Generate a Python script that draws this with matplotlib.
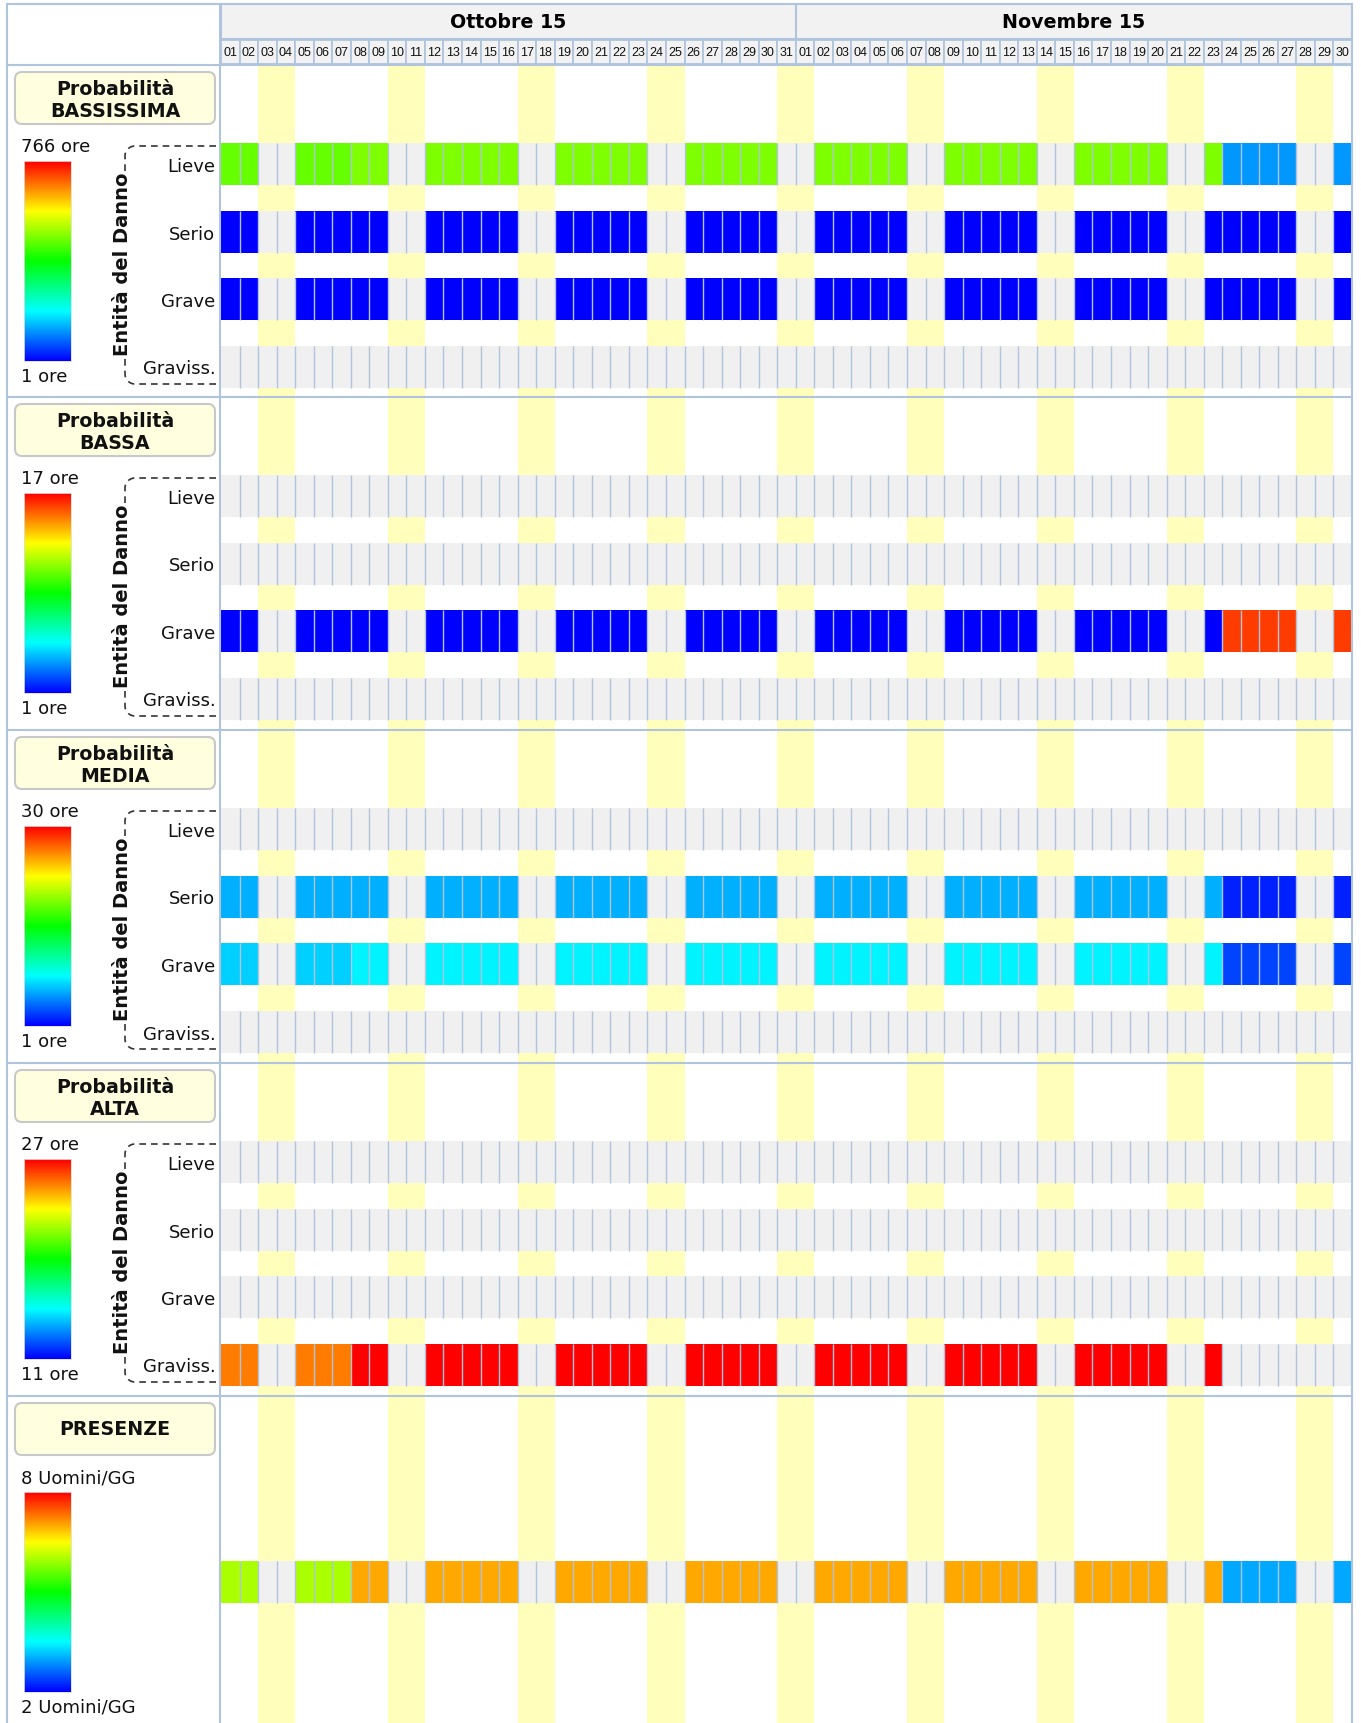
import datetime
import numpy as np
import matplotlib
matplotlib.use("Agg")
import matplotlib.pyplot as plt
from matplotlib.colors import LinearSegmentedColormap, Normalize
from matplotlib.patches import FancyBboxPatch
from matplotlib import font_manager

plt.rcParams["font.family"] = ["DejaVu Sans"]

N = None

# ---------------- data ----------------
months = ["Ottobre 15", "Novembre 15"]
month_lengths = [31, 30]
start_date = datetime.date(2015, 10, 1)
dates = [start_date + datetime.timedelta(days=i) for i in range(sum(month_lengths))]
day_labels = [f"{d.day:02d}" for d in dates]
weekend = [d.weekday() >= 5 for d in dates]

damage_levels = ["Lieve", "Serio", "Grave", "Graviss."]
no_data = [N] * 61

# Probabilità BASSISSIMA (ore)
bassissima_lieve = [
    460, 460, N, N, 460, 460, 460, 479, 479, N, N, 479, 479, 479, 479, 479, N, N,
    479, 479, 479, 479, 479, N, N, 479, 479, 479, 479, 479, N,
    N, 479, 479, 479, 479, 479, N, N, 479, 479, 479, 479, 479, N, N,
    479, 479, 479, 479, 479, N, N, 479, 116, 116, 116, 116, N, N, 116]
bassissima_serio = [
    1, 1, N, N, 1, 1, 1, 1, 1, N, N, 1, 1, 1, 1, 1, N, N,
    1, 1, 1, 1, 1, N, N, 1, 1, 1, 1, 1, N,
    N, 1, 1, 1, 1, 1, N, N, 1, 1, 1, 1, 1, N, N,
    1, 1, 1, 1, 1, N, N, 1, 1, 1, 1, 1, N, N, 1]
bassissima_grave = [
    1, 1, N, N, 1, 1, 1, 1, 1, N, N, 1, 1, 1, 1, 1, N, N,
    1, 1, 1, 1, 1, N, N, 1, 1, 1, 1, 1, N,
    N, 1, 1, 1, 1, 1, N, N, 1, 1, 1, 1, 1, N, N,
    1, 1, 1, 1, 1, N, N, 1, 1, 1, 1, 1, N, N, 1]
bassissima_graviss = no_data

# Probabilità BASSA (ore)
bassa_lieve = no_data
bassa_serio = no_data
bassa_grave = [
    1, 1, N, N, 1, 1, 1, 1, 1, N, N, 1, 1, 1, 1, 1, N, N,
    1, 1, 1, 1, 1, N, N, 1, 1, 1, 1, 1, N,
    N, 1, 1, 1, 1, 1, N, N, 1, 1, 1, 1, 1, N, N,
    1, 1, 1, 1, 1, N, N, 1, 16, 16, 16, 16, N, N, 16]
bassa_graviss = no_data

# Probabilità MEDIA (ore)
media_lieve = no_data
media_serio = [
    6, 6, N, N, 6, 6, 6, 6, 6, N, N, 6, 6, 6, 6, 6, N, N,
    6, 6, 6, 6, 6, N, N, 6, 6, 6, 6, 6, N,
    N, 6, 6, 6, 6, 6, N, N, 6, 6, 6, 6, 6, N, N,
    6, 6, 6, 6, 6, N, N, 6, 2, 2, 2, 2, N, N, 2]
media_grave = [
    7, 7, N, N, 7, 7, 7, 8, 8, N, N, 8, 8, 8, 8, 8, N, N,
    8, 8, 8, 8, 8, N, N, 8, 8, 8, 8, 8, N,
    N, 8, 8, 8, 8, 8, N, N, 8, 8, 8, 8, 8, N, N,
    8, 8, 8, 8, 8, N, N, 8, 3, 3, 3, 3, N, N, 3]
media_graviss = no_data

# Probabilità ALTA (ore)
alta_lieve = no_data
alta_serio = no_data
alta_grave = no_data
alta_graviss = [
    25, 25, N, N, 25, 25, 25, 27, 27, N, N, 27, 27, 27, 27, 27, N, N,
    27, 27, 27, 27, 27, N, N, 27, 27, 27, 27, 27, N,
    N, 27, 27, 27, 27, 27, N, N, 27, 27, 27, 27, 27, N, N,
    27, 27, 27, 27, 27, N, N, 27, N, N, N, N, N, N, N]

# PRESENZE (Uomini/GG)
presenze = [
    6, 6, N, N, 6, 6, 6, 7, 7, N, N, 7, 7, 7, 7, 7, N, N,
    7, 7, 7, 7, 7, N, N, 7, 7, 7, 7, 7, N,
    N, 7, 7, 7, 7, 7, N, N, 7, 7, 7, 7, 7, N, N,
    7, 7, 7, 7, 7, N, N, 7, 3, 3, 3, 3, N, N, 3]

scale_ranges = {"BASSISSIMA": (1, 766), "BASSA": (1, 17), "MEDIA": (1, 30),
                "ALTA": (11, 27), "PRESENZE": (2, 8)}

# ---------------- style ----------------
W, H = 1361, 1724
YELLOW = "#ffffbb"
GRAY = "#f0f0f0"
EDGE = "#b0c4de"
HEAD_BG = "#f2f2f2"
cmap = LinearSegmentedColormap.from_list(
    "jetlike", ["#0000ff", "#00ffff", "#00ff00", "#ffff00", "#ff0000"])


def has_font(name):
    try:
        font_manager.findfont(font_manager.FontProperties(family=name),
                              fallback_to_default=False)
        return True
    except Exception:
        return False


if has_font("Liberation Sans Narrow"):
    day_font, day_size = "Liberation Sans Narrow", 10.5
else:
    day_font, day_size = "Liberation Sans", 9

fig = plt.figure(figsize=(W / 100, H / 100), dpi=100)
fig.patch.set_facecolor("white")


def px_axes(x0, y0, x1, y1, **kw):
    return fig.add_axes([x0 / W, 1 - y1 / H, (x1 - x0) / W, (y1 - y0) / H], **kw)


GX0, GX1 = 221, 1352
ndays = len(dates)
ROW_PITCH = 67.5
ROW_H = 42 / ROW_PITCH
days_idx = np.arange(ndays)

# ---------------- header ----------------
hax = px_axes(GX0, 5, GX1, 65)
hax.set_xlim(0, ndays)
hax.set_ylim(60, 0)
hax.axis("off")
mstarts = np.concatenate([[0], np.cumsum(month_lengths)[:-1]])
hax.bar(mstarts, 35, bottom=0, width=month_lengths, align="edge",
        color=HEAD_BG, edgecolor=EDGE, linewidth=1.5)
for s, L, name in zip(mstarts, month_lengths, months):
    hax.text(s + L / 2, 17.5, name, ha="center", va="center",
             fontsize=13.7, fontweight="bold", color="black")
hax.bar(days_idx, 24, bottom=36, width=1, align="edge",
        color=HEAD_BG, edgecolor=EDGE, linewidth=1.3)
for i, lab in enumerate(day_labels):
    hax.text(i + 0.5, 48.5, lab, ha="center", va="center",
             fontsize=day_size, family=day_font, color="#111111")

# ---------------- panels ----------------
panels = [
    dict(title=["Probabilità", "BASSISSIMA"], key="BASSISSIMA", unit="ore",
         rows=[bassissima_lieve, bassissima_serio, bassissima_grave, bassissima_graviss],
         top=66, bottom=398),
    dict(title=["Probabilità", "BASSA"], key="BASSA", unit="ore",
         rows=[bassa_lieve, bassa_serio, bassa_grave, bassa_graviss],
         top=398, bottom=731),
    dict(title=["Probabilità", "MEDIA"], key="MEDIA", unit="ore",
         rows=[media_lieve, media_serio, media_grave, media_graviss],
         top=731, bottom=1064),
    dict(title=["Probabilità", "ALTA"], key="ALTA", unit="ore",
         rows=[alta_lieve, alta_serio, alta_grave, alta_graviss],
         top=1064, bottom=1397),
    dict(title=["PRESENZE"], key="PRESENZE", unit="Uomini/GG",
         rows=[presenze], top=1397, bottom=1724),
]

for p in panels:
    top, bottom = p["top"], p["bottom"]
    vmin, vmax = scale_ranges[p["key"]]
    norm = Normalize(vmin=vmin, vmax=vmax)
    nrows = len(p["rows"])
    first_center = 99 if nrows > 1 else 186

    ax = px_axes(GX0, top, GX1, bottom)
    ax.set_xlim(0, ndays)
    ax.set_ylim((bottom - top - first_center) / ROW_PITCH, -first_center / ROW_PITCH)
    for i, w in enumerate(weekend):
        if w:
            ax.axvspan(i, i + 1, color=YELLOW, lw=0, zorder=0)
    for k, series in enumerate(p["rows"]):
        vals = np.array([np.nan if v is None else v for v in series], dtype=float)
        colors = [GRAY if np.isnan(v) else cmap(norm(v)) for v in vals]
        ax.bar(days_idx, ROW_H, bottom=k - ROW_H / 2, width=1, align="edge",
               color=colors, linewidth=0, zorder=2)
        ax.vlines(days_idx[1:], k - ROW_H / 2, k + ROW_H / 2, color=EDGE,
                  linewidth=1.0, zorder=3)
    if nrows > 1:
        ax.set_yticks(range(nrows))
        ax.set_yticklabels(damage_levels, fontsize=13, color="#111111")
        ax.tick_params(axis="y", length=0, pad=4)
    else:
        ax.set_yticks([])
    ax.set_xticks([])
    for s in ax.spines.values():
        s.set_visible(False)

    # colour scale
    cax = px_axes(24, top + 96, 71, top + 296)
    grad = np.linspace(vmin, vmax, 256)[:, None]
    cax.imshow(grad, origin="lower", aspect="auto", cmap=cmap, norm=norm,
               extent=[0, 1, vmin, vmax])
    cax.set_xticks([])
    cax.set_yticks([])
    for s in cax.spines.values():
        s.set_color("#dddddd")
        s.set_linewidth(0.6)

# ---------------- overlay (frame, titles, labels) ----------------
ov = px_axes(0, 0, W, H)
ov.set_xlim(0, W)
ov.set_ylim(H, 0)
ov.axis("off")
ov.patch.set_alpha(0)

for p in panels:
    top = p["top"]
    vmin, vmax = scale_ranges[p["key"]]
    box = FancyBboxPatch((15, top + 7), 200, 52,
                         boxstyle="round,pad=0,rounding_size=7",
                         fc="#ffffe0", ec="#c8c8c8", lw=1.5)
    ov.add_patch(box)
    if len(p["title"]) == 2:
        ov.text(115, top + 29, p["title"][0], ha="center", va="baseline",
                fontsize=13.7, fontweight="bold", color="#111111")
        ov.text(115, top + 51, p["title"][1], ha="center", va="baseline",
                fontsize=13.7, fontweight="bold", color="#111111")
    else:
        ov.text(115, top + 38, p["title"][0], ha="center", va="baseline",
                fontsize=13.7, fontweight="bold", color="#111111")
    ov.text(21, top + 81.5, f"{vmax} {p['unit']}", ha="left", va="center",
            fontsize=13, color="#111111")
    ov.text(21, top + 311, f"{vmin} {p['unit']}", ha="left", va="center",
            fontsize=13, color="#111111")

    if len(p["rows"]) > 1:
        r = 10
        xv = 125
        th = np.linspace(np.pi / 2, np.pi, 12)
        cx, cy = xv + r, top + 81 + r
        xs = np.concatenate([[216], cx + r * np.cos(th), [xv]])
        ys = np.concatenate([[top + 81], cy - r * np.sin(th), [top + 106]])
        ov.plot(xs, ys, color="#333333", lw=1.2, linestyle=(0, (4, 3)))
        th2 = np.linspace(np.pi, 1.5 * np.pi, 12)
        cy2 = top + 309
        xs2 = np.concatenate([[xv], cx + r * np.cos(th2), [216]])
        ys2 = np.concatenate([[top + 294], cy2 - r * np.sin(th2), [top + 319]])
        ov.plot(xs2, ys2, color="#333333", lw=1.2, linestyle=(0, (4, 3)))
        ov.text(123, top + 198, "Entità del Danno", rotation=90, ha="center",
                va="center", fontsize=14, fontweight="bold", color="#111111")

# frame lines
LW = 1.5
ov.plot([7, GX1], [5, 5], color=EDGE, lw=LW)
ov.plot([7, 7], [5, H], color=EDGE, lw=LW)
ov.plot([220.5, 220.5], [5, H], color=EDGE, lw=LW)
ov.plot([GX1 + 0.5, GX1 + 0.5], [5, H], color=EDGE, lw=LW)
ov.plot([7, GX1], [65.5, 65.5], color=EDGE, lw=LW)
for p in panels[1:]:
    ov.plot([7, GX1], [p["top"], p["top"]], color=EDGE, lw=LW)

fig.savefig("out.png", dpi=100, facecolor="white")
